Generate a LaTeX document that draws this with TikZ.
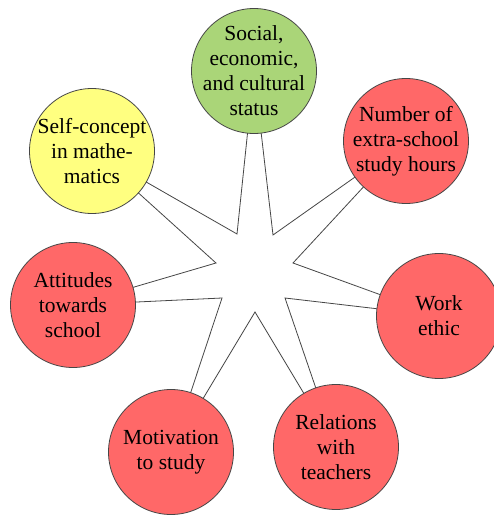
\documentclass[tikz,border=0pt]{standalone}
\usepackage{fontspec}
\setmainfont{Liberation Serif}
\definecolor{cgreen}{RGB}{170,213,120}
\definecolor{cred}{RGB}{255,104,104}
\definecolor{cyellow}{RGB}{255,255,128}
\definecolor{cline}{RGB}{70,70,70}
\tikzset{
  bubble/.style={circle, draw=cline, line width=0.8pt, minimum size=125pt, inner sep=0pt},
  txt/.style={align=center, inner sep=0pt, font=\fontsize{21.5}{25}\selectfont},
  starshape/.style={draw=cline, line width=0.8pt, fill=white, line join=miter}
}
\begin{document}
\begin{tikzpicture}[x=1pt,y=-1pt]
\useasboundingbox (0,0) rectangle (493,516);
% star tips (circle centres) and inner vertices
\coordinate (tS) at (254,71);
\coordinate (tN) at (406,141);
\coordinate (tW) at (439,316);
\coordinate (tR) at (336,447);
\coordinate (tM) at (171,452);
\coordinate (tA) at (73,305);
\coordinate (tY) at (92,151);
\coordinate (i1) at (273,235);
\coordinate (i2) at (293,263);
\coordinate (i3) at (285,298);
\coordinate (i4) at (255,312);
\coordinate (i5) at (222,298);
\coordinate (i6) at (216,263);
\coordinate (i7) at (237,234);
\draw[starshape] (tS) -- (i1) -- (tN) -- (i2) -- (tW) -- (i3) -- (tR) -- (i4)
  -- (tM) -- (i5) -- (tA) -- (i6) -- (tY) -- (i7) -- cycle;
% circles
\node[bubble, fill=cgreen] (soc) at (tS) {};
\node[bubble, fill=cred] (num) at (tN) {};
\node[bubble, fill=cred] (work) at (tW) {};
\node[bubble, fill=cred] (rel) at (tR) {};
\node[bubble, fill=cred] (mot) at (tM) {};
\node[bubble, fill=cred] (att) at (tA) {};
\node[bubble, fill=cyellow] (self) at (tY) {};
% texts
\node[txt] (socT) at (soc) {Social,\\economic,\\and cultural\\status};
\node[txt] (numT) at (num) {Number of\\extra-school\\study hours};
\node[txt] (workT) at (work) {Work\\ethic};
\node[txt] (relT) at (rel) {Relations\\with\\teachers};
\node[txt] (motT) at (mot) {Motivation\\to study};
\node[txt] (attT) at (att) {Attitudes\\towards\\school};
\node[txt] (selfT) at (self) {Self-concept\\in mathe-\\matics};
\end{tikzpicture}
\end{document}
